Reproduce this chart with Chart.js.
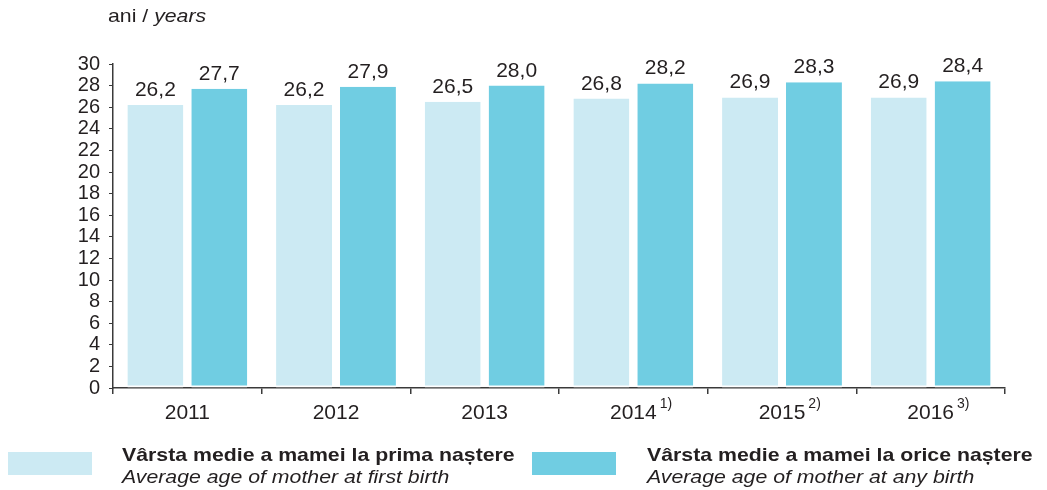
<!DOCTYPE html>
<html lang="ro">
<head>
<meta charset="UTF-8">
<title>Vârsta medie a mamei</title>
<script src="https://cdn.jsdelivr.net/npm/chart.js@4.4.1/dist/chart.umd.min.js"></script>
<style>
  * { margin: 0; padding: 0; box-sizing: border-box; }
  body { background: #fff; width: 1047px; height: 490px; position: relative; overflow: hidden; font-family: 'Liberation Sans', Arial, sans-serif; color: #231f20; }
  #wrap { position: absolute; left: 0; top: 0; width: 1047px; height: 490px; }
  .unit { position: absolute; left: 108px; top: 5px; font-size: 19px; transform: scaleX(1.12); transform-origin: left top; }
  .legend-item { position: absolute; top: 444px; left: 0; }
  .swatch { position: absolute; width: 84px; height: 23px; top: 8px; }
  .legend-text { position: absolute; top: 0; white-space: nowrap; font-size: 19px; line-height: 22px; transform: scaleX(1.12); transform-origin: left top; }
  .legend-text b { display: block; }
  .legend-text i { display: block; }
</style>
</head>
<body>
<div id="wrap"><canvas id="chart" width="1047" height="490"></canvas></div>
<div class="unit">ani / <i>years</i></div>
<div class="legend-item">
  <div class="swatch" style="left:8px;background:#cceaf3"></div>
  <div class="legend-text" style="left:122px">
    <b>Vârsta medie a mamei la prima naștere</b><i>Average age of mother at first birth</i>
  </div>
</div>
<div class="legend-item">
  <div class="swatch" style="left:532px;background:#70cde2"></div>
  <div class="legend-text" style="left:647px">
    <b>Vârsta medie a mamei la orice naștere</b><i>Average age of mother at any birth</i>
  </div>
</div>
<script>
const years = ['2011', '2012', '2013', '2014', '2015', '2016'];
const yearNotes = ['', '', '', '1)', '2)', '3)'];
const firstBirth = [26.2, 26.2, 26.5, 26.8, 26.9, 26.9];
const anyBirth = [27.7, 27.9, 28.0, 28.2, 28.3, 28.4];

const FONT = "'Liberation Sans', Arial, sans-serif";
const TEXT = '#231f20';
const AXIS = '#3a3a3a';

// value labels above bars + superscript notes on the year labels
const extras = {
  id: 'extras',
  afterDatasetsDraw(chart) {
    const ctx = chart.ctx;
    ctx.save();
    ctx.fillStyle = TEXT;
    ctx.font = '21px ' + FONT;
    ctx.textAlign = 'center';
    ctx.textBaseline = 'alphabetic';
    chart.data.datasets.forEach((ds, i) => {
      chart.getDatasetMeta(i).data.forEach((bar, j) => {
        ctx.fillText(ds.data[j].toFixed(1).replace('.', ','), bar.x, bar.y - 9);
      });
    });
    ctx.restore();
  },
  afterDraw(chart) {
    const ctx = chart.ctx;
    const xs = chart.scales.x;
    ctx.save();
    ctx.fillStyle = TEXT;
    yearNotes.forEach((note, i) => {
      if (!note) return;
      ctx.font = '21px ' + FONT;
      const w = ctx.measureText(years[i]).width;
      const x = xs.getPixelForTick(i) + w / 2 + 3;
      ctx.font = '14px ' + FONT;
      ctx.textAlign = 'left';
      ctx.textBaseline = 'top';
      ctx.fillText(note, x, 397);
    });
    ctx.restore();
  }
};

new Chart(document.getElementById('chart'), {
  type: 'bar',
  data: {
    labels: years,
    datasets: [
      { label: 'Vârsta medie a mamei la prima naștere', data: firstBirth, backgroundColor: '#cceaf3',
        borderColor: '#ffffff', borderWidth: { bottom: 2 }, borderSkipped: false },
      { label: 'Vârsta medie a mamei la orice naștere', data: anyBirth, backgroundColor: '#70cde2',
        borderColor: '#ffffff', borderWidth: { bottom: 2 }, borderSkipped: false }
    ]
  },
  options: {
    responsive: false,
    animation: false,
    categoryPercentage: 0.86,
    barPercentage: 0.875,
    layout: { padding: { top: 64, right: 42, left: 0, bottom: 0 } },
    plugins: { legend: { display: false }, tooltip: { enabled: false } },
    scales: {
      x: {
        afterFit(s) { s.height = 102; },
        border: { color: AXIS, width: 1.5 },
        grid: { display: true, offset: true, drawOnChartArea: false, drawTicks: true, tickLength: 6, color: AXIS, lineWidth: 1.5 },
        ticks: { color: TEXT, font: { size: 21, family: FONT }, padding: 7, maxRotation: 0 }
      },
      y: {
        min: 0, max: 30,
        afterFit(s) { s.width = 113; },
        border: { color: AXIS, width: 1.5 },
        grid: { display: true, drawOnChartArea: false, drawTicks: true, tickLength: 4, color: AXIS, lineWidth: 1 },
        ticks: { stepSize: 2, autoSkip: false, color: TEXT, font: { size: 20, family: FONT }, padding: 9 }
      }
    }
  },
  plugins: [extras]
});
</script>
</body>
</html>
